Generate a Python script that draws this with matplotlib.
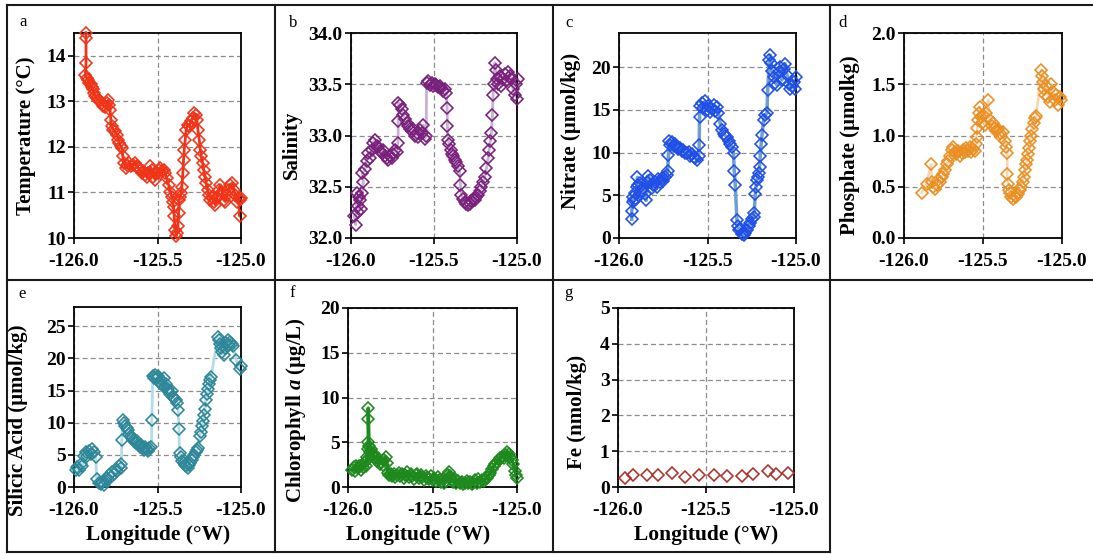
import matplotlib
matplotlib.use("Agg")
import matplotlib.pyplot as plt
from matplotlib.lines import Line2D

plt.rcParams['font.family'] = ['Liberation Serif', 'DejaVu Serif']
plt.rcParams['axes.unicode_minus'] = False
plt.rcParams['mathtext.fontset'] = 'custom'
plt.rcParams['mathtext.rm'] = 'Liberation Serif:bold'
plt.rcParams['mathtext.it'] = 'Liberation Serif:italic:bold'
plt.rcParams['mathtext.bf'] = 'Liberation Serif:bold'

# ---- data ----
temp_lon = [-125.930, -125.928, -125.928, -125.932, -125.924, -125.914, -125.908, -125.900, -125.894,
            -125.888, -125.880, -125.874, -125.864, -125.854, -125.844, -125.834, -125.824, -125.814,
            -125.804, -125.794, -125.788, -125.784, -125.780, -125.774, -125.764, -125.754, -125.744,
            -125.734, -125.728, -125.720, -125.714, -125.708, -125.700, -125.688, -125.680, -125.668,
            -125.660, -125.648, -125.634, -125.624, -125.614, -125.604, -125.594, -125.584, -125.574,
            -125.564, -125.554, -125.544, -125.534, -125.524, -125.514, -125.504, -125.494, -125.484,
            -125.474, -125.464, -125.454, -125.444, -125.434, -125.424, -125.414, -125.408, -125.404,
            -125.400, -125.394, -125.388, -125.384, -125.378, -125.374, -125.370, -125.364, -125.358,
            -125.354, -125.348, -125.344, -125.340, -125.334, -125.328, -125.320, -125.310, -125.300,
            -125.290, -125.280, -125.272, -125.264, -125.258, -125.250, -125.244, -125.238, -125.230,
            -125.224, -125.216, -125.208, -125.200, -125.192, -125.184, -125.174, -125.164, -125.154,
            -125.144, -125.134, -125.124, -125.114, -125.104, -125.094, -125.084, -125.074, -125.064,
            -125.054, -125.044, -125.034, -125.024, -125.014, -125.008, -125.004, -125.000]
temp = [14.50, 14.40, 13.84, 13.58, 13.51, 13.47, 13.40, 13.37, 13.31,
        13.26, 13.18, 13.11, 13.07, 13.04, 13.00, 12.96, 12.90, 12.87,
        12.96, 13.02, 12.93, 12.82, 12.60, 12.45, 12.38, 12.34, 12.27,
        12.16, 12.08, 12.01, 11.98, 11.79, 11.65, 11.54, 11.61, 11.65,
        11.57, 11.61, 11.65, 11.57, 11.54, 11.50, 11.43, 11.46, 11.39,
        11.35, 11.43, 11.57, 11.50, 11.35, 11.28, 11.43, 11.50, 11.54,
        11.46, 11.50, 11.43, 11.32, 11.17, 11.02, 10.91, 10.80, 10.69,
        10.48, 10.18, 10.04, 10.11, 10.26, 10.55, 10.84, 10.91, 10.99,
        11.13, 11.43, 11.72, 11.94, 12.16, 12.38, 12.49, 12.45, 12.56,
        12.63, 12.74, 12.71, 12.60, 12.38, 12.16, 11.94, 11.79, 11.65,
        11.50, 11.35, 11.20, 11.06, 10.95, 10.84, 10.91, 10.80, 10.73,
        10.91, 11.06, 11.17, 11.02, 10.84, 10.80, 10.95, 11.06, 11.17,
        11.20, 11.06, 10.95, 10.80, 10.88, 10.48, 10.84, 10.88]

sal_lon = [-125.980, -125.972, -125.966, -125.960, -125.956, -125.950, -125.946, -125.940, -125.932,
           -125.926, -125.932, -125.916, -125.906, -125.896, -125.886, -125.876, -125.866, -125.856,
           -125.846, -125.836, -125.826, -125.816, -125.806, -125.796, -125.786, -125.776, -125.766,
           -125.756, -125.746, -125.735, -125.725, -125.717, -125.715, -125.715, -125.705, -125.695,
           -125.685, -125.675, -125.665, -125.655, -125.645, -125.635, -125.625, -125.615, -125.605,
           -125.595, -125.585, -125.575, -125.565, -125.555, -125.547, -125.545, -125.535, -125.525,
           -125.515, -125.505, -125.495, -125.485, -125.475, -125.465, -125.455, -125.445, -125.435,
           -125.425, -125.421, -125.419, -125.415, -125.408, -125.400, -125.392, -125.385, -125.375,
           -125.365, -125.358, -125.345, -125.341, -125.335, -125.325, -125.315, -125.305, -125.295,
           -125.285, -125.275, -125.265, -125.255, -125.245, -125.234, -125.224, -125.214, -125.204,
           -125.194, -125.184, -125.174, -125.168, -125.160, -125.154, -125.148, -125.144, -125.140,
           -125.134, -125.128, -125.120, -125.114, -125.104, -125.094, -125.084, -125.074, -125.064,
           -125.054, -125.044, -125.034, -125.024, -125.014, -125.006, -125.000, -124.996]
sal = [32.21, 32.13, 32.44, 32.25, 32.31, 32.40, 32.37, 32.28, 32.44,
       32.55, 32.63, 32.67, 32.75, 32.83, 32.78, 32.86, 32.93, 32.96,
       32.90, 32.89, 32.85, 32.83, 32.86, 32.80, 32.78, 32.76, 32.80,
       32.78, 32.82, 32.86, 32.84, 32.93, 33.14, 33.32, 33.30, 33.26,
       33.20, 33.16, 33.12, 33.09, 33.06, 33.04, 33.06, 33.00, 33.02,
       32.99, 33.05, 33.02, 33.10, 32.97, 33.00, 33.51, 33.53, 33.49,
       33.51, 33.48, 33.50, 33.49, 33.47, 33.48, 33.46, 33.43, 33.45,
       33.41, 33.27, 33.09, 32.96, 32.92, 32.86, 32.82, 32.80, 32.76,
       32.74, 32.70, 32.65, 32.52, 32.42, 32.38, 32.35, 32.33, 32.32,
       32.33, 32.36, 32.38, 32.37, 32.40, 32.42, 32.46, 32.50, 32.55,
       32.60, 32.68, 32.78, 32.86, 32.95, 33.02, 33.20, 33.40, 33.50,
       33.71, 33.64, 33.55, 33.50, 33.58, 33.48, 33.55, 33.60, 33.53,
       33.62, 33.58, 33.55, 33.45, 33.40, 33.50, 33.36, 33.55]

no3_lon = [-125.928, -125.928, -125.923, -125.919, -125.913, -125.909, -125.904, -125.900, -125.896,
           -125.890, -125.881, -125.872, -125.862, -125.852, -125.847, -125.843, -125.834, -125.825,
           -125.815, -125.806, -125.796, -125.787, -125.777, -125.768, -125.758, -125.749, -125.740,
           -125.730, -125.725, -125.721, -125.715, -125.711, -125.702, -125.692, -125.683, -125.674,
           -125.664, -125.655, -125.645, -125.636, -125.626, -125.617, -125.607, -125.598, -125.588,
           -125.579, -125.570, -125.560, -125.550, -125.547, -125.545, -125.542, -125.532, -125.523,
           -125.514, -125.504, -125.495, -125.485, -125.476, -125.466, -125.457, -125.447, -125.438,
           -125.428, -125.419, -125.409, -125.400, -125.391, -125.381, -125.372, -125.362, -125.353,
           -125.349, -125.343, -125.334, -125.330, -125.324, -125.315, -125.306, -125.296, -125.287,
           -125.277, -125.268, -125.258, -125.249, -125.240, -125.236, -125.230, -125.226, -125.221,
           -125.216, -125.211, -125.206, -125.202, -125.197, -125.192, -125.183, -125.174, -125.164,
           -125.160, -125.150, -125.145, -125.140, -125.135, -125.126, -125.117, -125.108, -125.098,
           -125.089, -125.080, -125.070, -125.061, -125.051, -125.042, -125.032, -125.023, -125.013,
           -125.005, -125.000]
no3 = [2.2, 3.2, 4.2, 4.8, 4.5, 5.3, 4.6, 6.0, 7.1,
       6.2, 6.4, 5.6, 5.9, 5.2, 4.4, 6.5, 7.3, 6.8,
       5.9, 6.2, 6.6, 6.0, 6.9, 6.5, 7.0, 6.7, 7.2,
       7.4, 7.8, 9.7, 11.4, 10.9, 11.2, 10.8, 11.0, 10.6,
       10.4, 10.5, 10.2, 10.3, 10.0, 9.9, 10.1, 9.6, 9.8,
       9.5, 9.4, 9.1, 9.6, 10.9, 14.2, 15.5, 15.8, 15.2,
       16.0, 15.0, 15.4, 14.7, 15.1, 15.6, 14.9, 15.3, 14.6,
       13.4, 12.6, 12.2, 12.0, 11.8, 11.4, 11.0, 10.6, 9.9,
       7.9, 6.2, 2.1, 1.4, 0.9, 1.1, 0.5, 0.3, 0.6,
       0.9, 1.4, 1.8, 2.2, 2.5, 2.9, 5.2, 6.0, 6.8,
       7.2, 7.6, 8.3, 9.6, 11.0, 12.1, 13.8, 14.4, 14.6,
       17.3, 20.8, 21.4, 20.5, 19.6, 18.8, 18.2, 17.9, 19.4,
       20.0, 18.5, 19.8, 20.4, 19.1, 18.0, 17.4, 17.8, 18.3,
       17.5, 18.8]

po4_lon = [-125.888, -125.857, -125.829, -125.825, -125.815, -125.804, -125.794, -125.783, -125.773,
           -125.762, -125.752, -125.741, -125.731, -125.720, -125.709, -125.699, -125.690, -125.678,
           -125.668, -125.657, -125.647, -125.636, -125.626, -125.615, -125.605, -125.594, -125.584,
           -125.573, -125.563, -125.552, -125.545, -125.541, -125.536, -125.531, -125.525, -125.520,
           -125.514, -125.509, -125.499, -125.488, -125.478, -125.467, -125.457, -125.446, -125.436,
           -125.425, -125.415, -125.404, -125.394, -125.383, -125.373, -125.362, -125.352, -125.345,
           -125.347, -125.341, -125.335, -125.326, -125.320, -125.309, -125.299, -125.288, -125.278,
           -125.268, -125.257, -125.250, -125.243, -125.236, -125.229, -125.222, -125.215, -125.208,
           -125.201, -125.194, -125.187, -125.180, -125.173, -125.163, -125.131, -125.126, -125.120,
           -125.115, -125.110, -125.099, -125.088, -125.078, -125.067, -125.057, -125.046, -125.036,
           -125.025, -125.015, -125.004]
po4 = [0.44, 0.53, 0.72, 0.55, 0.50, 0.48, 0.52, 0.57, 0.55,
       0.60, 0.62, 0.66, 0.72, 0.75, 0.80, 0.86, 0.89, 0.84,
       0.82, 0.85, 0.80, 0.83, 0.86, 0.84, 0.88, 0.85, 0.89,
       0.84, 0.87, 0.85, 0.92, 0.99, 1.07, 1.15, 1.22, 1.28,
       1.18, 1.12, 1.20, 1.10, 1.22, 1.35, 1.15, 1.09, 1.12,
       1.07, 1.04, 1.06, 1.02, 0.99, 1.03, 0.95, 0.89, 0.83,
       0.62, 0.53, 0.47, 0.44, 0.40, 0.38, 0.41, 0.40, 0.43,
       0.47, 0.50, 0.55, 0.60, 0.66, 0.72, 0.76, 0.82, 0.88,
       0.95, 1.00, 1.06, 1.12, 1.17, 1.19, 1.64, 1.58, 1.52,
       1.45, 1.40, 1.48, 1.38, 1.33, 1.50, 1.42, 1.35, 1.40,
       1.30, 1.38, 1.35]

si_lon = [-125.990, -125.980, -125.970, -125.960, -125.950, -125.940, -125.930, -125.920, -125.910,
          -125.900, -125.890, -125.880, -125.870, -125.864, -125.850, -125.840, -125.830, -125.820,
          -125.810, -125.800, -125.790, -125.780, -125.770, -125.760, -125.750, -125.740, -125.730,
          -125.720, -125.716, -125.714, -125.708, -125.700, -125.692, -125.684, -125.676, -125.668,
          -125.660, -125.652, -125.644, -125.636, -125.628, -125.620, -125.612, -125.604, -125.596,
          -125.588, -125.580, -125.572, -125.564, -125.556, -125.548, -125.536, -125.534, -125.528,
          -125.520, -125.512, -125.504, -125.496, -125.488, -125.480, -125.472, -125.464, -125.456,
          -125.448, -125.440, -125.432, -125.424, -125.416, -125.408, -125.400, -125.392, -125.384,
          -125.376, -125.372, -125.368, -125.360, -125.352, -125.344, -125.336, -125.328, -125.320,
          -125.312, -125.304, -125.296, -125.288, -125.280, -125.272, -125.264, -125.256, -125.248,
          -125.240, -125.232, -125.226, -125.220, -125.216, -125.210, -125.204, -125.198, -125.192,
          -125.186, -125.180, -125.138, -125.132, -125.126, -125.120, -125.112, -125.104, -125.096,
          -125.088, -125.080, -125.072, -125.064, -125.056, -125.048, -125.030, -125.005, -125.000]
si = [2.7, 3.1, 2.6, 3.6, 3.3, 4.8, 5.4, 4.9, 5.6,
      5.2, 5.9, 5.5, 4.6, 1.2, 0.6, 0.4, 0.8, 0.3,
      1.0, 1.4, 1.8, 1.5, 2.3, 2.0, 2.8, 2.5, 3.2,
      2.9, 3.6, 7.3, 10.4, 10.0, 9.5, 9.2, 8.8, 8.3,
      7.9, 7.6, 7.3, 7.0, 6.8, 7.1, 6.6, 6.3, 6.5,
      6.0, 5.7, 6.2, 5.9, 5.6, 6.1, 6.3, 10.4, 17.3,
      17.0, 17.5, 16.9, 17.2, 16.2, 16.6, 15.8, 17.0, 15.5,
      16.0, 15.2, 14.8, 14.4, 14.9, 14.0, 13.8, 13.5, 13.0,
      12.0, 9.0, 5.3, 4.6, 4.0, 3.7, 3.4, 3.2, 3.0,
      3.5, 3.8, 4.2, 4.6, 5.0, 5.4, 5.7, 6.0, 8.0,
      8.6, 9.5, 10.2, 11.2, 12.2, 13.6, 14.5, 15.2, 16.0,
      16.6, 17.1, 23.4, 22.8, 22.2, 21.6, 21.0, 20.6, 21.6,
      22.4, 22.9, 22.1, 22.6, 22.3, 22.0, 19.8, 18.4, 18.8]

chl_lon = [-125.976, -125.966, -125.958, -125.950, -125.942, -125.934, -125.926, -125.918, -125.910,
           -125.902, -125.896, -125.890, -125.886, -125.882, -125.880, -125.880, -125.880, -125.876,
           -125.870, -125.864, -125.858, -125.850, -125.842, -125.834, -125.826, -125.818, -125.810,
           -125.802, -125.794, -125.786, -125.778, -125.770, -125.764, -125.756, -125.748, -125.740,
           -125.730, -125.720, -125.710, -125.700, -125.690, -125.680, -125.670, -125.660, -125.650,
           -125.640, -125.630, -125.620, -125.610, -125.600, -125.590, -125.580, -125.570, -125.560,
           -125.550, -125.540, -125.530, -125.520, -125.510, -125.500, -125.490, -125.480, -125.470,
           -125.460, -125.450, -125.440, -125.430, -125.420, -125.410, -125.402, -125.394, -125.386,
           -125.378, -125.368, -125.358, -125.348, -125.338, -125.328, -125.318, -125.308, -125.298,
           -125.288, -125.278, -125.268, -125.258, -125.248, -125.238, -125.228, -125.218, -125.208,
           -125.198, -125.188, -125.178, -125.168, -125.158, -125.148, -125.138, -125.128, -125.118,
           -125.108, -125.098, -125.088, -125.078, -125.068, -125.058, -125.050, -125.040, -125.030,
           -125.022, -125.012, -125.004, -125.000]
chl = [1.9, 2.2, 1.8, 2.4, 2.1, 2.3, 1.9, 2.5, 2.2,
       2.8, 2.4, 3.4, 3.0, 4.3, 5.0, 7.6, 8.8, 4.6,
       3.9, 4.3, 3.6, 3.8, 3.2, 3.4, 2.9, 3.1, 2.6,
       2.8, 2.5, 3.0, 3.4, 2.7, 1.6, 1.3, 1.5, 1.2,
       1.4, 1.1, 1.3, 1.6, 1.2, 1.5, 1.0, 1.3, 1.7,
       1.1, 1.4, 1.2, 0.9, 1.3, 1.5, 1.0, 1.3, 1.1,
       0.8, 1.2, 1.0, 0.9, 1.2, 0.8, 1.0, 0.7, 1.1,
       0.8, 0.6, 0.9, 0.4, 0.7, 1.3, 1.7, 1.2, 0.8,
       0.6, 0.9, 0.5, 0.7, 0.4, 0.6, 0.3, 0.5, 0.7,
       0.4, 0.6, 0.3, 0.5, 0.8, 0.5, 0.9, 0.6, 0.8,
       0.7, 0.9, 1.0, 1.3, 1.6, 2.0, 2.3, 2.6, 2.8,
       3.0, 3.2, 3.4, 3.2, 3.6, 3.9, 3.7, 3.3, 3.0,
       2.6, 1.8, 1.3, 1.0]

fe_lon = [-125.960, -125.917, -125.837, -125.771, -125.696, -125.620, -125.539,
          -125.456, -125.378, -125.293, -125.233, -125.147, -125.104, -125.036]
fe = [0.26, 0.33, 0.33, 0.33, 0.39, 0.28, 0.33, 0.33, 0.30, 0.30, 0.35, 0.44, 0.37, 0.38]

W, H = 1093, 554


def px_axes(fig, x0, y0, x1, y1):
    return fig.add_axes([x0 / W, 1 - y1 / H, (x1 - x0) / W, (y1 - y0) / H])


def style_axes(ax, ylim, yticks, yfmt):
    ax.set_xlim(-126.0, -125.0)
    ax.set_ylim(*ylim)
    ax.set_xticks([-126.0, -125.5, -125.0])
    ax.set_xticklabels(['-126.0', '-125.5', '-125.0'])
    ax.set_yticks(yticks)
    ax.set_yticklabels([yfmt.format(v) for v in yticks])
    ax.grid(True, color='#8c8c8c', linestyle=(0, (4, 2.5)), linewidth=0.9)
    ax.set_axisbelow(True)
    for s in ax.spines.values():
        s.set_linewidth(1.3)
    ax.tick_params(direction='out', length=4, width=1.2, labelsize=14, pad=2)
    ax.tick_params(axis='x', pad=7)
    for lab in ax.get_xticklabels() + ax.get_yticklabels():
        lab.set_fontweight('bold')


def draw(ax, lon, val, mcolor, lcolor=None, lw=2.0):
    if lcolor is not None:
        ax.plot(lon, val, '-', color=lcolor, lw=lw, zorder=2, clip_on=False)
    ax.plot(lon, val, 'D', ms=5.8, mfc='none', mec=mcolor, mew=1.15, zorder=3, clip_on=False)


fig = plt.figure(figsize=(W / 100, H / 100), dpi=100)

panels = [
    # box, data, ylim, yticks, fmt, ylabel, label pos (px), letter, letter pos, colours, line width
    ((74, 33, 241, 238), temp_lon, temp, (10, 14.5), [10, 11, 12, 13, 14], '{:.0f}',
     'Temperature (°C)', (26, 136), 'a', (23, 22), '#f03418', '#f03418', 2.0),
    ((351, 33, 517, 238), sal_lon, sal, (32, 34), [32.0, 32.5, 33.0, 33.5, 34.0], '{:.1f}',
     'Salinity', (292, 145), 'b', (293, 23), '#7a1f7c', '#c6b2d6', 2.0),
    ((619, 33, 796, 238), no3_lon, no3, (0, 24), [0, 5, 10, 15, 20], '{:.0f}',
     'Nitrate (µmol/kg)', (571, 131), 'c', (569, 23), '#1f4fe6', '#6f9fd2', 2.5),
    ((904, 33, 1062, 238), po4_lon, po4, (0, 2), [0.0, 0.5, 1.0, 1.5, 2.0], '{:.1f}',
     'Phosphate (µmolkg)', (850, 145), 'd', (843, 23), '#ea8f22', '#f8d4b0', 1.8),
    ((74, 307, 241, 487), si_lon, si, (0, 28), [0, 5, 10, 15, 20, 25], '{:.0f}',
     'Silicic Acid (µmol/kg)', (18, 420), 'e', (22, 294), '#2e8799', '#b3dcea', 2.0),
    ((348, 308, 517, 487), chl_lon, chl, (0, 20), [0, 5, 10, 15, 20], '{:.0f}',
     'Chlorophyll $a$ (µg/L)', (296, 410), 'f', (292, 293), '#1e8a1e', '#1e8a1e', 2.5),
    ((618, 308, 794, 487), fe_lon, fe, (0, 5), [0, 1, 2, 3, 4, 5], '{:.0f}',
     'Fe (nmol/kg)', (577, 412), 'g', (568, 293), '#b0302a', None, 2.0),
]

for (box, lon, val, ylim, yt, fmt, ylab, lpos, letter, letpos, mc, lc, lw) in panels:
    ax = px_axes(fig, *box)
    style_axes(ax, ylim, yt, fmt)
    draw(ax, lon, val, mc, lc, lw)
    fig.text(lpos[0] / W, 1 - lpos[1] / H, ylab, rotation=90, ha='center', va='center',
             fontsize=15, fontweight='bold')
    fig.text(letpos[0] / W, 1 - letpos[1] / H, letter, ha='center', va='center', fontsize=12)

for xc in (158, 418, 706):
    fig.text(xc / W, 1 - 535 / H, 'Longitude (°W)', ha='center', va='center',
             fontsize=15.5, fontweight='bold')

# table-style frame around the panels
frame = [((7, 5), (1093, 5)), ((7, 280), (1093, 280)), ((7, 552), (830, 552)),
         ((7, 5), (7, 552)), ((275, 5), (275, 552)), ((553, 5), (553, 552)), ((830, 5), (830, 552))]
for (xa, ya), (xb, yb) in frame:
    fig.add_artist(Line2D([xa / W, xb / W], [1 - ya / H, 1 - yb / H], color='#1a1a1a', lw=1.5))

fig.savefig('out.png', dpi=100)
